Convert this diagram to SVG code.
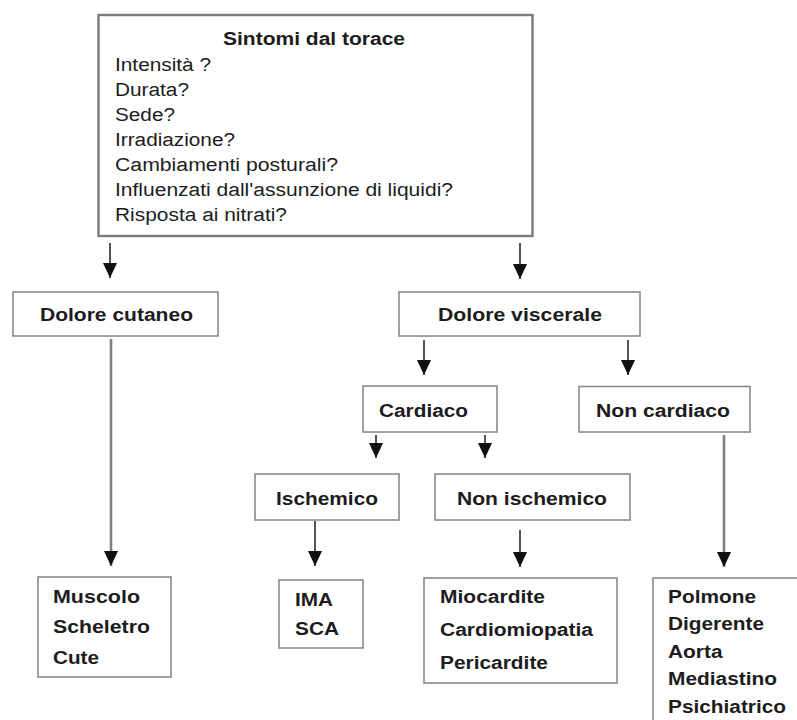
<svg xmlns="http://www.w3.org/2000/svg" width="797" height="720" viewBox="0 0 797 720">
<defs>
<style>
.box{fill:#fff;stroke:#8a8a8a;stroke-width:1.6}
.top{fill:#fff;stroke:#7a7a7a;stroke-width:2.4}
.t{font-family:"Liberation Sans",Arial,sans-serif;font-size:18px;fill:#1c1c1c}
.b{font-weight:bold}
.arr{stroke:#2a2a2a;stroke-width:1.6;fill:none;marker-end:url(#ah)}
.long{stroke:#808080;stroke-width:2.6;fill:none;marker-end:url(#ah)}
</style>
<marker id="ah" viewBox="0 0 15 14" refX="15" refY="7" markerWidth="15" markerHeight="14" markerUnits="userSpaceOnUse" orient="auto">
<path d="M0,0 L15,7 L0,14 z" fill="#111"/>
</marker>
</defs>
<rect width="797" height="720" fill="#fff"/>

<g id="connectors">
<line class="arr" x1="110" y1="243" x2="110" y2="278"/>
<line class="arr" x1="520" y1="243" x2="520" y2="279"/>
<line class="arr" x1="424" y1="340" x2="424" y2="375"/>
<line class="arr" x1="628" y1="340" x2="628" y2="375"/>
<line class="arr" x1="376" y1="435" x2="376" y2="458"/>
<line class="arr" x1="485" y1="435" x2="485" y2="458"/>
<line class="long" x1="111" y1="339" x2="111" y2="566"/>
<line class="arr" x1="315" y1="521" x2="315" y2="566"/>
<line class="arr" x1="520" y1="530" x2="520" y2="567"/>
<line class="long" x1="724" y1="435" x2="724" y2="567"/>
</g>

<g id="sintomi">
<rect class="top" x="98.5" y="15" width="434" height="221"/>
<text class="t b" x="223" y="44.5" textLength="182" lengthAdjust="spacingAndGlyphs">Sintomi dal torace</text>
<text class="t" x="115" y="71" textLength="96" lengthAdjust="spacingAndGlyphs">Intensità ?</text>
<text class="t" x="115" y="96" textLength="74" lengthAdjust="spacingAndGlyphs">Durata?</text>
<text class="t" x="115" y="121" textLength="60" lengthAdjust="spacingAndGlyphs">Sede?</text>
<text class="t" x="115" y="146" textLength="120" lengthAdjust="spacingAndGlyphs">Irradiazione?</text>
<text class="t" x="115" y="171" textLength="223" lengthAdjust="spacingAndGlyphs">Cambiamenti posturali?</text>
<text class="t" x="115" y="196" textLength="338" lengthAdjust="spacingAndGlyphs">Influenzati dall'assunzione di liquidi?</text>
<text class="t" x="115" y="221" textLength="172" lengthAdjust="spacingAndGlyphs">Risposta ai nitrati?</text>
</g>

<g id="dolore-cutaneo">
<rect class="box" x="13" y="292" width="205" height="44"/>
<text class="t b" x="40" y="321" textLength="153" lengthAdjust="spacingAndGlyphs">Dolore cutaneo</text>
</g>

<g id="dolore-viscerale">
<rect class="box" x="399" y="292" width="241" height="44"/>
<text class="t b" x="438" y="321" textLength="164" lengthAdjust="spacingAndGlyphs">Dolore viscerale</text>
</g>

<g id="cardiaco">
<rect class="box" x="363" y="386" width="134" height="46"/>
<text class="t b" x="379" y="416.5" textLength="89" lengthAdjust="spacingAndGlyphs">Cardiaco</text>
</g>

<g id="non-cardiaco">
<rect class="box" x="579" y="386.5" width="171" height="45.5"/>
<text class="t b" x="596" y="416.5" textLength="134" lengthAdjust="spacingAndGlyphs">Non cardiaco</text>
</g>

<g id="ischemico">
<rect class="box" x="255" y="474" width="144" height="46"/>
<text class="t b" x="276" y="505" textLength="102" lengthAdjust="spacingAndGlyphs">Ischemico</text>
</g>

<g id="non-ischemico">
<rect class="box" x="435" y="474" width="195" height="46"/>
<text class="t b" x="457" y="505" textLength="150" lengthAdjust="spacingAndGlyphs">Non ischemico</text>
</g>

<g id="muscolo">
<rect class="box" x="38" y="577" width="133" height="100"/>
<text class="t b" x="53" y="603" textLength="87" lengthAdjust="spacingAndGlyphs">Muscolo</text>
<text class="t b" x="53" y="633" textLength="97" lengthAdjust="spacingAndGlyphs">Scheletro</text>
<text class="t b" x="53" y="664" textLength="46" lengthAdjust="spacingAndGlyphs">Cute</text>
</g>

<g id="ima">
<rect class="box" x="279" y="580" width="84" height="68"/>
<text class="t b" x="295" y="606" textLength="38" lengthAdjust="spacingAndGlyphs">IMA</text>
<text class="t b" x="295" y="635" textLength="44" lengthAdjust="spacingAndGlyphs">SCA</text>
</g>

<g id="miocardite">
<rect class="box" x="424" y="578" width="193" height="105"/>
<text class="t b" x="440" y="603" textLength="105" lengthAdjust="spacingAndGlyphs">Miocardite</text>
<text class="t b" x="440" y="636" textLength="153" lengthAdjust="spacingAndGlyphs">Cardiomiopatia</text>
<text class="t b" x="440" y="669" textLength="108" lengthAdjust="spacingAndGlyphs">Pericardite</text>
</g>

<g id="polmone">
<rect class="box" x="653" y="578" width="150" height="150"/>
<text class="t b" x="668" y="603" textLength="88" lengthAdjust="spacingAndGlyphs">Polmone</text>
<text class="t b" x="668" y="630" textLength="96" lengthAdjust="spacingAndGlyphs">Digerente</text>
<text class="t b" x="668" y="658" textLength="54.5" lengthAdjust="spacingAndGlyphs">Aorta</text>
<text class="t b" x="668" y="685" textLength="109" lengthAdjust="spacingAndGlyphs">Mediastino</text>
<text class="t b" x="668" y="713" textLength="118" lengthAdjust="spacingAndGlyphs">Psichiatrico</text>
</g>
</svg>
